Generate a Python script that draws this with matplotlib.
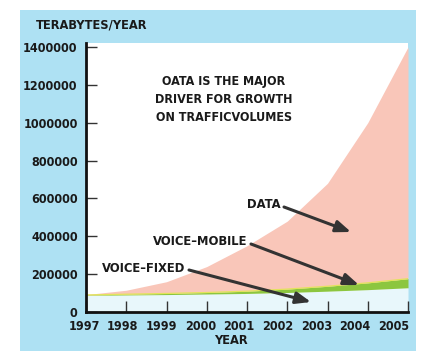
import matplotlib
matplotlib.use("Agg")
import matplotlib.pyplot as plt
from matplotlib.patches import Rectangle
from matplotlib.transforms import offset_copy

years = [1997, 1998, 1999, 2000, 2001, 2002, 2003, 2004, 2005]
voice_fixed = [88000, 90000, 92000, 95000, 98000, 103000, 110000, 118000, 128000]
voice_mobile = [2000, 4000, 6000, 8000, 12000, 18000, 26000, 36000, 48000]
total_top = [92000, 115000, 160000, 240000, 350000, 480000, 680000, 1000000, 1400000]
data = [t - f - m for t, f, m in zip(total_top, voice_fixed, voice_mobile)]
x_labels = [str(y) for y in years]

y_ticks = [0, 200000, 400000, 600000, 800000, 1000000, 1200000, 1400000]
y_labels = [str(v) for v in y_ticks]

plt.rcParams['font.family'] = ['DejaVu Sans']
plt.rcParams['font.stretch'] = 'condensed'
plt.rcParams['font.weight'] = 'bold'

W, H = 422, 351
fig = plt.figure(figsize=(W / 100, H / 100), dpi=100)
fig.patch.set_facecolor('white')
bg = Rectangle((20 / W, 0), 396 / W, 1 - 10 / H, transform=fig.transFigure,
               facecolor='#aee1f3', edgecolor='none', zorder=-10)
fig.patches.append(bg)

ax = fig.add_axes([86 / W, 1 - 312 / H, 322 / W, 269 / H])
ax.set_zorder(1)
ax.set_facecolor('white')

fixed_top = voice_fixed
mob_top = [a + b for a, b in zip(voice_fixed, voice_mobile)]
dat_top = [a + b for a, b in zip(mob_top, data)]
ax.fill_between(years, 0, fixed_top, color='#e8f7fb', lw=0, zorder=1)
ax.fill_between(years, fixed_top, mob_top, color='#8cc63f', lw=0, zorder=2)
ax.fill_between(years, mob_top, dat_top, color='#f9c6b9', lw=0, zorder=1)
ax.plot(years, mob_top, color='#e3e35a', lw=0.9, zorder=3)

ax.set_xlim(1997, 2005)
ax.set_ylim(0, 1421000)
ax.set_xticks(years)
ax.set_xticklabels([])
ax.set_yticks(y_ticks)
ax.set_yticklabels(y_labels, fontsize=9, color='#1a1a1a')
ax.tick_params(axis='both', direction='in', length=8, width=1, color='#333333')
ax.tick_params(axis='y', pad=6)
for s in ['top', 'right']:
    ax.spines[s].set_visible(False)
for s in ['left', 'bottom']:
    ax.spines[s].set_linewidth(2)
    ax.spines[s].set_color('#111111')
    ax.spines[s].set_zorder(5)

# x tick labels (slightly drifting left of the ticks, as in the original)
xt = ax.get_xaxis_transform()
for i, (yr, lab) in enumerate(zip(years, x_labels)):
    tr = offset_copy(xt, fig=fig, x=-(2 + 1.5 * i) * 0.72, y=-15 * 0.72, units='points')
    ax.text(yr, 0, lab, transform=tr, fontsize=9, ha='center', va='center',
            color='#1a1a1a', clip_on=False)

fig.text(36 / W, 1 - 25 / H, 'TERABYTES/YEAR', fontsize=9.2, ha='left', va='center', color='#1a1a1a')
fig.text(231 / W, 1 - 341 / H, 'YEAR', fontsize=9.2, ha='center', va='center', color='#1a1a1a')

ax.text(2000.43, 1421000 * (312 - 100) / 269,
        'OATA IS THE MAJOR\nDRIVER FOR GROWTH\nON TRAFFICVOLUMES',
        fontsize=9, ha='center', va='center', linespacing=1.5, color='#1a1a1a', zorder=6)

def px(x, y):
    return 1997 + (x - 86) / 40.25, (312 - y) * 1421000 / 269

arrow_kw = dict(arrowstyle='-|>,head_length=0.9,head_width=0.35', color='#333333', lw=2.2,
                shrinkA=0, shrinkB=0)
labels = [('DATA', (281, 205), (284, 207), (351, 232)),
          ('VOICE\u2013MOBILE', (247, 242), (251, 244), (359, 285)),
          ('VOICE\u2013FIXED', (185, 269), (189, 270), (311, 302))]
for txt, tpos, tail, head in labels:
    ax.text(*px(*tpos), txt, fontsize=9.3, ha='right', va='center', color='#1a1a1a', zorder=6)
    ax.annotate('', xy=px(*head), xytext=px(*tail), arrowprops=arrow_kw, zorder=6)

fig.savefig('out.png', dpi=100)
